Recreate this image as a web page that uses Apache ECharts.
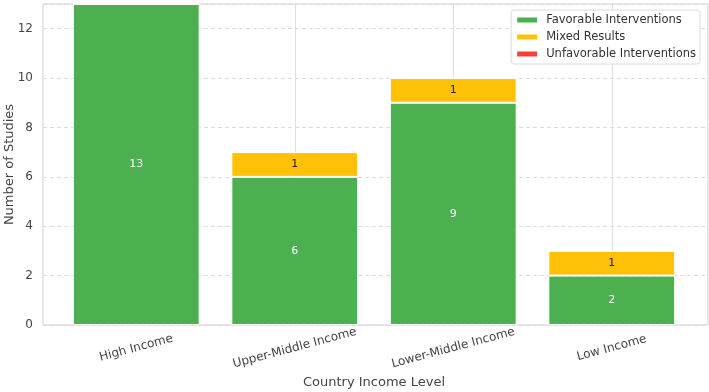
<!DOCTYPE html>
<html>
<head>
<meta charset="utf-8">
<script src="https://cdn.jsdelivr.net/npm/echarts@6/dist/echarts.min.js"></script>
<style>
  html, body { margin: 0; padding: 0; background: #fff; }
  #chart { width: 709px; height: 392px; }
</style>
</head>
<body>
<div id="chart"></div>
<script>
// data
var categories = ['High Income', 'Upper-Middle Income', 'Lower-Middle Income', 'Low Income'];
var favorable = [13, 6, 9, 2];
var mixed = [0, 1, 1, 1];
var unfavorable = [0, 0, 0, 0];

var chartDom = document.getElementById('chart');
var myChart = echarts.init(chartDom);

var font = 'DejaVu Sans';

function segLabel(color) {
  return {
    show: true,
    position: 'inside',
    color: color,
    fontSize: 11,
    fontFamily: font,
    formatter: function (p) { return p.value > 0 ? String(p.value) : ''; }
  };
}

var option = {
  animation: false,
  textStyle: { fontFamily: font },
  legend: {
    orient: 'vertical',
    right: 9,
    top: 10,
    icon: 'rect',
    itemWidth: 22,
    itemHeight: 7,
    itemGap: 5,
    padding: [4, 4, 4, 4],
    backgroundColor: '#fff',
    borderColor: '#dcdcdc',
    borderWidth: 1,
    borderRadius: 3,
    textStyle: { fontSize: 11.5, color: '#333', fontFamily: font, padding: [0, 0, 0, 3] },
    data: ['Favorable Interventions', 'Mixed Results', 'Unfavorable Interventions']
  },
  grid: [
    // outer frame + horizontal grid lines
    { left: 43, right: 1, top: 4, bottom: 67, outerBoundsMode: 'none', show: true, borderColor: '#cfcfcf', borderWidth: 1, backgroundColor: 'transparent' },
    // bar area
    { left: 57, right: 18, top: 4, bottom: 67, outerBoundsMode: 'none' }
  ],
  xAxis: [
    { gridIndex: 0, type: 'value', min: 0, max: 1, show: false },
    {
      gridIndex: 1,
      type: 'category',
      data: categories,
      axisLine: { show: false },
      axisTick: { show: false },
      splitLine: { show: true, alignWithLabel: true, lineStyle: { color: '#dedede', width: 1 } },
      axisLabel: {
        rotate: 15,
        align: 'center',
        verticalAlign: 'middle',
        margin: 23,
        color: '#444',
        fontSize: 12,
        fontFamily: font
      },
      name: 'Country Income Level',
      nameLocation: 'middle',
      nameGap: 50,
      nameTextStyle: { color: '#444', fontSize: 13, fontFamily: font }
    }
  ],
  yAxis: [
    {
      gridIndex: 0,
      type: 'value',
      min: 0,
      max: 13,
      interval: 2,
      axisLine: { show: false },
      axisTick: { show: false },
      axisLabel: { color: '#444', fontSize: 12, fontFamily: font, margin: 10, showMaxLabel: false },
      splitLine: { show: true, lineStyle: { color: '#dcdcdc', type: [4, 3], width: 1 } },
      name: 'Number of Studies',
      nameLocation: 'middle',
      nameMoveOverlap: false,
      nameGap: 27,
      nameTextStyle: { color: '#444', fontSize: 13, fontFamily: font }
    },
    { gridIndex: 1, type: 'value', min: 0, max: 13, show: false, splitLine: { show: false } }
  ],
  series: [
    {
      name: 'Favorable Interventions',
      type: 'bar',
      stack: 'total',
      xAxisIndex: 1,
      yAxisIndex: 1,
      barCategoryGap: '20%',
      data: favorable,
      itemStyle: { color: '#4caf50', borderColor: '#fff', borderWidth: 1 },
      label: segLabel('#fff')
    },
    {
      name: 'Mixed Results',
      type: 'bar',
      stack: 'total',
      xAxisIndex: 1,
      yAxisIndex: 1,
      data: mixed,
      itemStyle: { color: '#ffc107', borderColor: '#fff', borderWidth: 1 },
      label: segLabel('#222')
    },
    {
      name: 'Unfavorable Interventions',
      type: 'bar',
      stack: 'total',
      xAxisIndex: 1,
      yAxisIndex: 1,
      data: unfavorable,
      itemStyle: { color: '#f44336', borderColor: '#fff', borderWidth: 1 },
      label: segLabel('#fff')
    }
  ]
};

myChart.setOption(option);

window.addEventListener('resize', function () {
  myChart.resize();
});
</script>
</body>
</html>
